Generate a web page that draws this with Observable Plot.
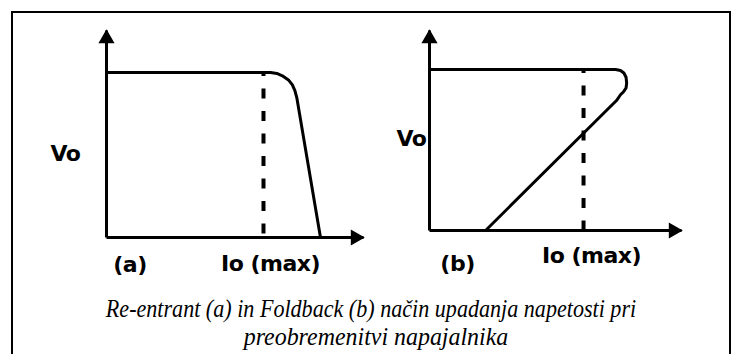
<!DOCTYPE html>
<html>
<head>
<meta charset="utf-8">
<script src="https://cdn.jsdelivr.net/npm/d3@7"></script>
<script src="https://cdn.jsdelivr.net/npm/@observablehq/plot@0.6"></script>
<style>
  html, body { margin: 0; padding: 0; background: #fff; width: 736px; height: 354px; overflow: hidden; }
  #frame { position: relative; width: 736px; height: 354px; }
  #border { position: absolute; left: 11px; top: 11px; width: 716px; height: 400px; border: 2px solid #000; box-sizing: content-box; z-index: 5; pointer-events: none; }
  .panel { position: absolute; top: 0; }
  #caption { position: absolute; left: 13px; width: 716px; top: 295px; text-align: center;
    font-family: "Liberation Serif", "Times New Roman", serif; font-style: italic; font-size: 26px; line-height: 27.5px; color: #000; }
  #caption div { transform: scaleX(0.85); transform-origin: 50% 50%; white-space: nowrap; }
  #caption div.l2 { transform: translateX(5px) scaleX(0.92); }
</style>
</head>
<body>
<div id="frame">
  <div id="border"></div>
  <div id="panelA" class="panel" style="left:0px"></div>
  <div id="panelB" class="panel" style="left:368px"></div>
  <div id="caption"></div>
</div>
<script>
// ---- data (output current I in units of Io(max), output voltage V in units of nominal Vo) ----
const reentrantCurrent = [0, 1.045, 1.085, 1.120, 1.159, 1.184, 1.200, 1.212, 1.363];
const reentrantVoltage = [1, 1, 0.994, 0.980, 0.955, 0.925, 0.890, 0.848, 0];
const foldbackCurrent = [0, 1.208, 1.240, 1.262, 1.276, 1.280, 1.276, 1.260, 1.240, 1.214, 0.364];
const foldbackVoltage = [1, 1, 0.994, 0.978, 0.952, 0.915, 0.885, 0.862, 0.843, 0.807, 0];
const ioMax = 1;
const axisEndCurrent = [1.637, 1.636];   // x-axis arrow extent per panel
const axisEndVoltage = [1.2545, 1.242];  // y-axis arrow extent per panel
const panelLetters = ["(a)", "(b)"];
const yAxisLabel = "Vo";
const xAxisLabel = "Io (max)";
const captionLines = [
  "Re-entrant (a) in Foldback (b) način upadanja napetosti pri",
  "preobremenitvi napajalnika"
];
// label anchor positions in data units, per panel
const vLabelPos = [[-0.166, 0.509], [-0.02, 0.571]];
const letterPos = [[0.150, -0.164], [0.182, -0.205]];
const ioLabelPos = [[1.045, -0.158], [1.052, -0.161]];

function zipCurve(cs, vs) { return cs.map((c, i) => ({I: c, V: vs[i]})); }

function panel(k, curve, layout) {
  const xEnd = axisEndCurrent[k], yEnd = axisEndVoltage[k];
  const font = {fontFamily: "DejaVu Sans", fontWeight: "bold", fontSize: 22};
  return Plot.plot({
    width: layout.width, height: layout.height,
    marginLeft: layout.ml, marginRight: layout.mr, marginTop: layout.mt, marginBottom: layout.mb,
    x: {domain: [0, xEnd], axis: null},
    y: {domain: [0, yEnd], axis: null},
    style: {background: "transparent", overflow: "visible", letterSpacing: "-0.5px"},
    marks: [
      // axes
      Plot.line([{I: 0, V: 0}, {I: xEnd, V: 0}], {x: "I", y: "V", stroke: "#000", strokeWidth: 3, strokeLinecap: "butt"}),
      Plot.line([{I: 0, V: 0}, {I: 0, V: yEnd}], {x: "I", y: "V", stroke: "#000", strokeWidth: 3, strokeLinecap: "butt"}),
      Plot.dot([{I: 0, V: yEnd}], {x: "I", y: "V", symbol: "triangle", r: 6, fill: "#000", stroke: "none", dy: 8}),
      Plot.dot([{I: xEnd, V: 0}], {x: "I", y: "V", symbol: "triangle", r: 6, fill: "#000", stroke: "none", rotate: 90, dx: -8}),
      // Io(max) dashed guide
      Plot.ruleX([ioMax], {y1: 1, y2: 0, stroke: "#000", strokeWidth: 4, strokeDasharray: "10,12.5", strokeDashoffset: 6}),
      // characteristic
      Plot.line(curve, {x: "I", y: "V", stroke: "#000", strokeWidth: 3, curve: "linear", strokeLinejoin: "round"}),
      // labels
      Plot.text([yAxisLabel], {x: vLabelPos[k][0], y: vLabelPos[k][1], text: d => d, textAnchor: "end", ...font}),
      Plot.text([panelLetters[k]], {x: letterPos[k][0], y: letterPos[k][1], text: d => d, ...font, letterSpacing: "2px"}),
      Plot.text([xAxisLabel], {x: ioLabelPos[k][0], y: ioLabelPos[k][1], text: d => d, ...font})
    ]
  });
}

document.getElementById("panelA").appendChild(
  panel(0, zipCurve(reentrantCurrent, reentrantVoltage), {width: 368, height: 280, ml: 106, mr: 5, mt: 30, mb: 43})
);
document.getElementById("panelB").appendChild(
  panel(1, zipCurve(foldbackCurrent, foldbackVoltage), {width: 360, height: 280, ml: 61, mr: 47, mt: 30, mb: 50})
);
const cap = document.getElementById("caption");
captionLines.forEach((t, i) => { const d = document.createElement("div"); d.textContent = t; if (i === 1) d.className = "l2"; cap.appendChild(d); });
</script>
</body>
</html>
